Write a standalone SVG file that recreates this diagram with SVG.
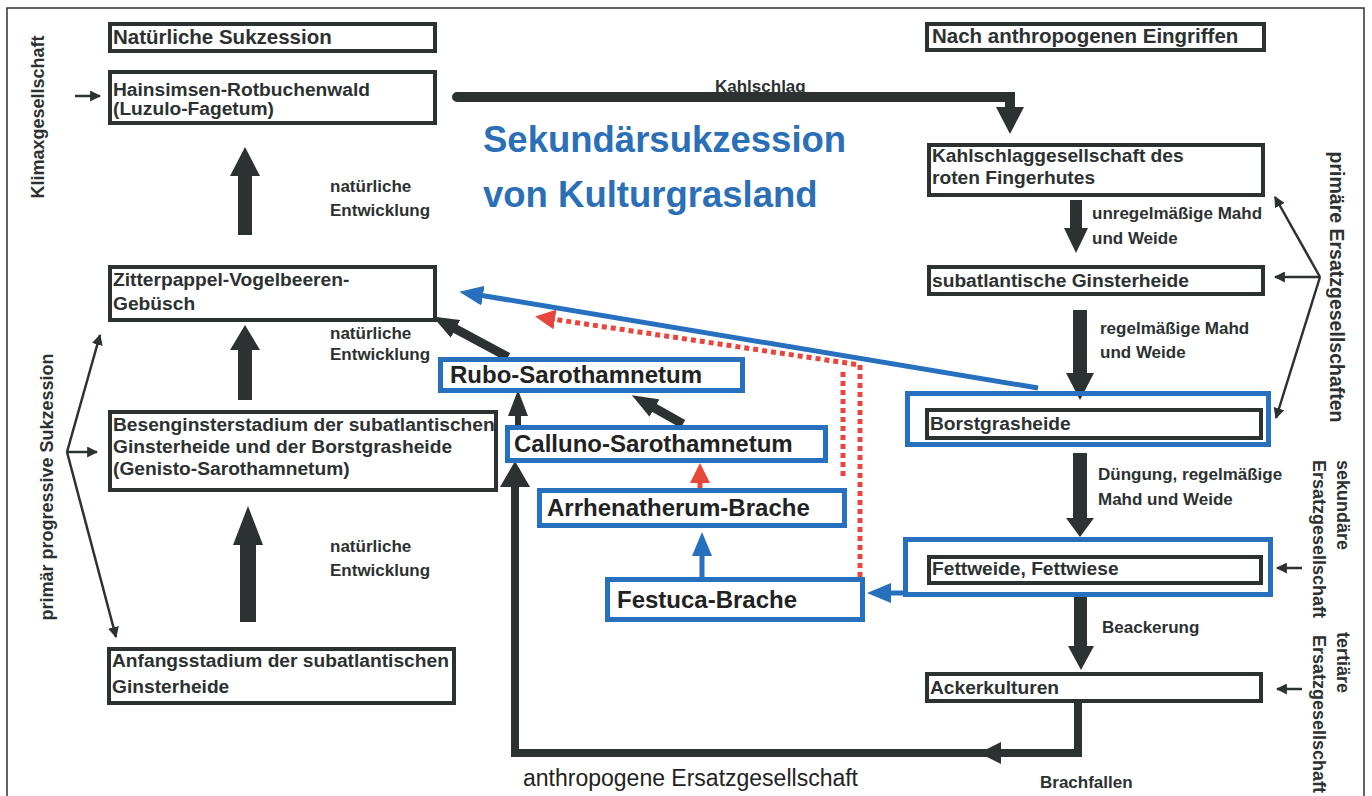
<svg xmlns="http://www.w3.org/2000/svg" width="1372" height="796" viewBox="0 0 1372 796">
<defs>
<style>
.bx{fill:#fff;stroke:#2c3131;stroke-width:4}
.bb{fill:none;stroke:#2670bd;stroke-width:5}
.t{font-family:"Liberation Sans",Arial,sans-serif;font-weight:bold;font-size:19.2px;fill:#2c3131}
.h{font-size:20.5px}
.lb{font-family:"Liberation Sans",Arial,sans-serif;font-weight:bold;font-size:17px;fill:#2c3131}
.vt{font-family:"Liberation Sans",Arial,sans-serif;font-weight:bold;font-size:18px;fill:#2c3131}
.vb{font-size:19.5px}
.bt{font-family:"Liberation Sans",Arial,sans-serif;font-weight:bold;font-size:24px;fill:#222}
.ttl{font-family:"Liberation Sans",Arial,sans-serif;font-weight:bold;font-size:36.5px;fill:#2b6fb6}
.an{font-family:"Liberation Sans",Arial,sans-serif;font-size:23px;fill:#222}
.blk{fill:#2c3131}
.thick{fill:none;stroke:#2c3131}
.thin{fill:none;stroke:#2c3131;stroke-width:2.5}
.bl{fill:none;stroke:#2670bd;stroke-width:5}
.rd{fill:none;stroke:#e8453c;stroke-width:5;stroke-dasharray:5 4}
</style>
<marker id="mk" viewBox="0 0 10 10" refX="9" refY="5" markerWidth="11" markerHeight="11" orient="auto" markerUnits="userSpaceOnUse"><path d="M0 0 L10 5 L0 10 Z" fill="#2c3131"/></marker>
<marker id="mkb" viewBox="0 0 26 20" refX="4" refY="10" markerWidth="26" markerHeight="20" orient="auto" markerUnits="userSpaceOnUse"><path d="M0 0 L26 10 L0 20 Z" fill="#2c3131"/></marker>
<marker id="mbl" viewBox="0 0 24 20" refX="4" refY="10" markerWidth="24" markerHeight="20" orient="auto" markerUnits="userSpaceOnUse"><path d="M0 0 L24 10 L0 20 Z" fill="#2670bd"/></marker>
<marker id="mrd" viewBox="0 0 20 20" refX="3" refY="10" markerWidth="20" markerHeight="20" orient="auto" markerUnits="userSpaceOnUse"><path d="M0 0 L20 10 L0 20 Z" fill="#e8453c"/></marker>
</defs>
<rect x="0" y="0" width="1372" height="796" fill="#fff"/>
<rect x="7" y="8" width="1357" height="800" fill="none" stroke="#2c3131" stroke-width="1.5"/>

<g id="title">
<text class="ttl" x="483" y="152">Sekundärsukzession</text>
<text class="ttl" x="483" y="207">von Kulturgrasland</text>
</g>

<g id="side-labels">
<text class="vt" text-anchor="middle" transform="translate(44,117) rotate(-90)">Klimaxgesellschaft</text>
<text class="vt" text-anchor="middle" transform="translate(53,487) rotate(-90)">primär progressive Sukzession</text>
<text class="vt vb" text-anchor="middle" transform="translate(1330,287) rotate(90)">primäre Ersatzgesellschaften</text>
<text class="vt" transform="translate(1337,460) rotate(90)">sekundäre</text>
<text class="vt" transform="translate(1313,460) rotate(90)">Ersatzgesellschaft</text>
<text class="vt" transform="translate(1337,632) rotate(90)">tertiäre</text>
<text class="vt" transform="translate(1313,635) rotate(90)">Ersatzgesellschaft</text>
</g>

<g id="edge-labels">
<text class="lb" x="715" y="92">Kahlschlag</text>
<text class="lb" x="330" y="192">natürliche</text>
<text class="lb" x="330" y="216">Entwicklung</text>
<text class="lb" x="330" y="339">natürliche</text>
<text class="lb" x="330" y="360">Entwicklung</text>
<text class="lb" x="330" y="552">natürliche</text>
<text class="lb" x="330" y="576">Entwicklung</text>
<text class="lb" x="1092" y="219">unregelmäßige Mahd</text>
<text class="lb" x="1092" y="244">und Weide</text>
<text class="lb" x="1100" y="334">regelmäßige Mahd</text>
<text class="lb" x="1100" y="358">und Weide</text>
<text class="lb" x="1098" y="480">Düngung, regelmäßige</text>
<text class="lb" x="1098" y="505">Mahd und Weide</text>
<text class="lb" x="1102" y="633">Beackerung</text>
<text class="lb" x="1040" y="788">Brachfallen</text>
<text class="an" x="523" y="786">anthropogene Ersatzgesellschaft</text>
</g>

<g id="connectors">
<!-- Kahlschlag -->
<path class="thick" stroke-width="10" stroke-linecap="round" d="M457 97 H1010 V110"/>
<polygon class="blk" points="996,107 1024,107 1010,134"/>
<!-- left column block arrows -->
<polygon class="blk" points="245,147 260,176 252,176 252,235 238,235 238,176 230,176"/>
<polygon class="blk" points="245,325 260,350 252,350 252,400 238,400 238,350 230,350"/>
<polygon class="blk" points="248,506 263,545 256,545 256,622 240,622 240,545 233,545"/>
<!-- right column block arrows -->
<polygon class="blk" points="1076,253 1088,228 1082,228 1082,200 1070,200 1070,228 1064,228"/>
<polygon class="blk" points="1080,400 1094,373 1087,373 1087,310 1073,310 1073,373 1066,373"/>
<polygon class="blk" points="1080,537 1094,518 1087,518 1087,453 1073,453 1073,518 1066,518"/>
<polygon class="blk" points="1081,670 1094,646 1087,646 1087,597 1074,597 1074,646 1068,646"/>
<!-- bottom loop: Ackerkulturen -> Calluno -->
<path class="thick" stroke-width="8" d="M1078 703 V753 H515 V484"/>
<polygon class="blk" points="979,753 1001,742 1001,764"/>
<polygon class="blk" points="515,461 530,487 500,487"/>
<!-- center black arrows -->
<line class="thick" stroke-width="9" x1="508" y1="357" x2="452" y2="327" marker-end="url(#mkb)"/>
<line class="thick" stroke-width="6" x1="518" y1="426" x2="518" y2="412" marker-end="url(#mkb)"/>
<line class="thick" stroke-width="9" x1="683" y1="424" x2="651" y2="406" marker-end="url(#mkb)"/>
<!-- blue arrows -->
<line class="bl" x1="1038" y1="388" x2="479" y2="295" marker-end="url(#mbl)"/>
<line class="bl" x1="905" y1="593" x2="887" y2="593" marker-end="url(#mbl)"/>
<line class="bl" x1="702" y1="577" x2="702" y2="552" marker-end="url(#mbl)"/>
<!-- red dotted arrows -->
<path class="rd" d="M860 577 V365 L552 319" marker-end="url(#mrd)"/>
<path class="rd" d="M843 372 V478"/>
<path class="rd" d="M700 488 V480" marker-end="url(#mrd)"/>
<!-- brackets and small arrows -->
<line class="thin" x1="75" y1="96" x2="100" y2="96" marker-end="url(#mk)"/>
<line class="thin" x1="67" y1="452" x2="100" y2="335" marker-end="url(#mk)"/>
<line class="thin" x1="67" y1="452" x2="97" y2="452" marker-end="url(#mk)"/>
<line class="thin" x1="67" y1="452" x2="116" y2="637" marker-end="url(#mk)"/>
<line class="thin" x1="1320" y1="277" x2="1275" y2="197" marker-end="url(#mk)"/>
<line class="thin" x1="1320" y1="277" x2="1275" y2="277" marker-end="url(#mk)"/>
<line class="thin" x1="1320" y1="277" x2="1276" y2="418" marker-end="url(#mk)"/>
<line class="thin" x1="1302" y1="568" x2="1277" y2="568" marker-end="url(#mk)"/>
<line class="thin" x1="1302" y1="689" x2="1277" y2="689" marker-end="url(#mk)"/>
</g>

<g id="n-natuerliche">
<rect class="bx" x="110" y="24" width="325" height="27"/>
<text class="t h" x="113" y="44">Natürliche Sukzession</text>
</g>
<g id="n-hainsimsen">
<rect class="bx" x="110" y="72" width="325" height="51"/>
<text class="t" x="113" y="96">Hainsimsen-Rotbuchenwald</text>
<text class="t" x="113" y="115">(Luzulo-Fagetum)</text>
</g>
<g id="n-zitterpappel">
<rect class="bx" x="110" y="267" width="325" height="53"/>
<text class="t" x="113" y="286">Zitterpappel-Vogelbeeren-</text>
<text class="t" x="113" y="310">Gebüsch</text>
</g>
<g id="n-besenginster">
<rect class="bx" x="110" y="412" width="386" height="78"/>
<text class="t" x="113" y="431">Besenginsterstadium der subatlantischen</text>
<text class="t" x="113" y="453">Ginsterheide und der Borstgrasheide</text>
<text class="t" x="113" y="475">(Genisto-Sarothamnetum)</text>
</g>
<g id="n-anfangsstadium">
<rect class="bx" x="109" y="649" width="345" height="54"/>
<text class="t" x="112" y="667">Anfangsstadium der subatlantischen</text>
<text class="t" x="112" y="693">Ginsterheide</text>
</g>

<g id="n-nach">
<rect class="bx" x="927" y="24" width="337" height="26"/>
<text class="t h" x="932" y="43">Nach anthropogenen Eingriffen</text>
</g>
<g id="n-kahlschlag">
<rect class="bx" x="929" y="145" width="334" height="50"/>
<text class="t" x="932" y="162">Kahlschlaggesellschaft des</text>
<text class="t" x="932" y="184">roten Fingerhutes</text>
</g>
<g id="n-ginsterheide">
<rect class="bx" x="929" y="267" width="334" height="27"/>
<text class="t" x="932" y="287">subatlantische Ginsterheide</text>
</g>
<g id="n-borstgrasheide">
<rect class="bb" x="907.5" y="393.5" width="361" height="51"/>
<rect class="bx" x="927" y="410" width="334" height="28"/>
<text class="t" x="930" y="430">Borstgrasheide</text>
</g>
<g id="n-fettweide">
<rect class="bb" x="905.5" y="539.5" width="365" height="55"/>
<rect class="bx" x="929" y="557" width="332" height="26"/>
<text class="t" x="932" y="575">Fettweide, Fettwiese</text>
</g>
<g id="n-ackerkulturen">
<rect class="bx" x="927" y="674" width="334" height="27"/>
<text class="t" x="930" y="694">Ackerkulturen</text>
</g>

<g id="n-rubo">
<rect class="bb" x="440.5" y="359.5" width="302" height="31"/>
<text class="bt" x="450" y="383">Rubo-Sarothamnetum</text>
</g>
<g id="n-calluno">
<rect class="bb" x="507.5" y="427.5" width="318" height="33"/>
<text class="bt" x="514" y="452">Calluno-Sarothamnetum</text>
</g>
<g id="n-arrhenatherum">
<rect class="bb" x="539.5" y="490.5" width="305" height="35"/>
<text class="bt" x="547" y="516">Arrhenatherum-Brache</text>
</g>
<g id="n-festuca">
<rect class="bb" x="607.5" y="579.5" width="255" height="40"/>
<text class="bt" x="617" y="608">Festuca-Brache</text>
</g>
</svg>
